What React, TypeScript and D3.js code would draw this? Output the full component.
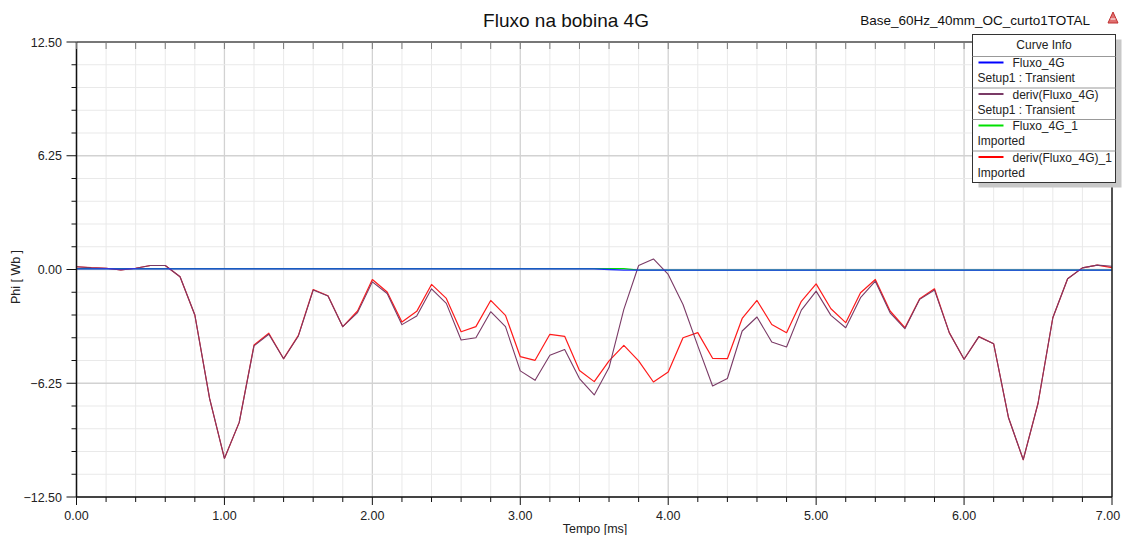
import React from "react";
import * as d3 from "d3";

const times: number[] = [
  0.0, 0.1, 0.2, 0.3, 0.4, 0.5, 0.6, 0.7, 0.8, 0.9,
  1.0, 1.1, 1.2, 1.3, 1.4, 1.5, 1.6, 1.7, 1.8, 1.9,
  2.0, 2.1, 2.2, 2.3, 2.4, 2.5, 2.6, 2.7, 2.8, 2.9,
  3.0, 3.1, 3.2, 3.3, 3.4, 3.5, 3.6, 3.7, 3.8, 3.9,
  4.0, 4.1, 4.2, 4.3, 4.4, 4.5, 4.6, 4.7, 4.8, 4.9,
  5.0, 5.1, 5.2, 5.3, 5.4, 5.5, 5.6, 5.7, 5.8, 5.9,
  6.0, 6.1, 6.2, 6.3, 6.4, 6.5, 6.6, 6.7, 6.8, 6.9,
  7.0,
];

const derivFluxo4G: number[] = [
  0.15, 0.1, 0.07, -0.02, 0.07, 0.22, 0.22, -0.4, -2.5, -7.1,
  -10.38, -8.4, -4.2, -3.56, -4.9, -3.65, -1.13, -1.46, -3.14, -2.37,
  -0.68, -1.32, -3.03, -2.56, -1.06, -1.86, -3.87, -3.75, -2.32, -3.14,
  -5.57, -6.09, -4.71, -4.4, -5.99, -6.89, -5.39, -2.19, 0.22, 0.58,
  -0.27, -1.92, -4.2, -6.4, -5.99, -3.38, -2.61, -3.98, -4.26, -2.23,
  -1.19, -2.52, -3.2, -1.55, -0.64, -2.38, -3.25, -1.64, -1.13, -3.47,
  -4.93, -3.69, -4.08, -8.13, -10.45, -7.35, -2.65, -0.51, 0.09, 0.24,
  0.18,
];

const derivFluxo4G1: number[] = [
  0.15, 0.1, 0.07, -0.02, 0.07, 0.22, 0.22, -0.4, -2.5, -7.1,
  -10.38, -8.4, -4.15, -3.5, -4.9, -3.62, -1.1, -1.44, -3.14, -2.28,
  -0.55, -1.24, -2.89, -2.3, -0.82, -1.59, -3.42, -3.14, -1.7, -2.52,
  -4.79, -4.99, -3.56, -3.67, -5.55, -6.16, -5.02, -4.17, -5.02, -6.18,
  -5.63, -3.75, -3.47, -4.88, -4.9, -2.69, -1.7, -3.02, -3.47, -1.75,
  -0.79, -2.16, -2.92, -1.28, -0.55, -2.28, -3.2, -1.61, -1.06, -3.47,
  -4.93, -3.69, -4.08, -8.13, -10.45, -7.35, -2.65, -0.51, 0.09, 0.24,
  0.1,
];

const fluxoTimes: number[] = [0.0, 3.5, 3.6, 3.7, 7.0];
const fluxo4G: number[] = [0.03, 0.03, 0.0, -0.03, -0.03];
const fluxo1Times: number[] = [0.0, 3.7, 3.8, 7.0];
const fluxo4G1: number[] = [0.05, 0.05, -0.03, -0.03];

const yMajorTicks: number[] = [12.5, 6.25, 0, -6.25, -12.5];
const xMajorTicks: number[] = [0, 1, 2, 3, 4, 5, 6, 7];

const legendNames: string[] = ["Fluxo_4G", "deriv(Fluxo_4G)", "Fluxo_4G_1", "deriv(Fluxo_4G)_1"];
const legendSubs: string[] = ["Setup1 : Transient", "Setup1 : Transient", "Imported", "Imported"];
const legendColors: string[] = ["#0000ff", "#7a3a66", "#00e000", "#ff0000"];

const W = 1125;
const H = 535;
const L = 76.5;
const R = 1112;
const T = 42;
const B = 497;
const FONT = "'Liberation Sans', Arial, sans-serif";

export default function App() {
  const x = d3.scaleLinear().domain([0, 7]).range([L, R]);
  const y = d3.scaleLinear().domain([-12.5, 12.5]).range([B, T]);

  const xMinor = d3.range(0, 36).map((i) => i * 0.2).filter((v) => v <= 7.0001);
  const yMinor = d3.range(-10, 11).map((i) => i * 1.25);

  const line = d3
    .line<[number, number]>()
    .x((d) => x(d[0]))
    .y((d) => y(d[1]));

  const pts = (ts: number[], vs: number[]) => ts.map((t, i) => [t, vs[i]] as [number, number]);

  const fmt = d3.format(".2f");

  const legX = 972.5;
  const legW = 143;
  const legT = 34.5;
  const headH = 22;
  const rowH = 31.5;

  return (
    <svg width={W} height={H} style={{ position: "absolute", left: 0, top: 0, background: "#fff" }} fontFamily={FONT}>
      <rect x={0} y={0} width={W} height={H} fill="#fff" />
      {/* grid */}
      <g>
        {xMinor.map((v, i) => {
          const major = Math.abs(v - Math.round(v)) < 1e-6;
          return (
            <line key={"gx" + i} x1={x(v)} x2={x(v)} y1={T} y2={B} stroke={major ? "#d2d2d2" : "#e9e9e9"} strokeWidth={major ? 1.3 : 1} />
          );
        })}
        {yMinor.map((v, i) => {
          const major = Math.abs(v / 6.25 - Math.round(v / 6.25)) < 1e-6;
          return (
            <line key={"gy" + i} x1={L} x2={R} y1={y(v)} y2={y(v)} stroke={major ? "#d2d2d2" : "#e9e9e9"} strokeWidth={major ? 1.3 : 1} />
          );
        })}
      </g>
      {/* curves */}
      <g fill="none" strokeLinejoin="round">
        <path d={line(pts(times, derivFluxo4G1)) || ""} stroke="#ff1a1a" strokeWidth={1.2} />
        <path d={line(pts(fluxo1Times, fluxo4G1)) || ""} stroke="#00e000" strokeWidth={1.2} />
        <path d={line(pts(times, derivFluxo4G)) || ""} stroke="#7a3a66" strokeWidth={1.1} />
        <path d={line(pts(fluxoTimes, fluxo4G)) || ""} stroke="#1f2fff" strokeWidth={1.3} />
      </g>
      {/* frame */}
      <line x1={L} x2={R} y1={T} y2={T} stroke="#555" strokeWidth={1.5} />
      <line x1={R} x2={R} y1={T} y2={B} stroke="#222" strokeWidth={1.5} />
      <line x1={L} x2={L} y1={T} y2={B} stroke="#111" strokeWidth={1.5} />
      <line x1={L} x2={R} y1={B} y2={B} stroke="#111" strokeWidth={1.5} />
      {/* x ticks */}
      {xMinor.map((v, i) => {
        const major = Math.abs(v - Math.round(v)) < 1e-6;
        return (
          <g key={"xt" + i}>
            <line x1={x(v)} x2={x(v)} y1={B} y2={B + (major ? 8 : 5)} stroke="#111" strokeWidth={1} />
            <line x1={x(v)} x2={x(v)} y1={T} y2={T + 7} stroke="#777" strokeWidth={1} />
          </g>
        );
      })}
      {xMajorTicks.map((v) => (
        <text key={"xl" + v} x={v === 7 ? x(v) - 4 : x(v)} y={B + 23} textAnchor="middle" fontSize={12.5} fill="#222">
          {fmt(v)}
        </text>
      ))}
      {/* y ticks */}
      {yMinor.map((v, i) => {
        const major = Math.abs(v / 6.25 - Math.round(v / 6.25)) < 1e-6;
        return <line key={"yt" + i} x1={major ? L - 10 : L - 5} x2={L} y1={y(v)} y2={y(v)} stroke="#111" strokeWidth={1} />;
      })}
      {yMajorTicks.map((v) => (
        <text key={"yl" + v} x={62} y={y(v) + 4.5} textAnchor="end" fontSize={12.5} fill="#222">
          {fmt(v)}
        </text>
      ))}
      {/* axis titles */}
      <text x={595} y={533} textAnchor="middle" fontSize={12.5} fill="#222">
        Tempo [ms]
      </text>
      <text transform={`translate(20,${277}) rotate(-90)`} textAnchor="middle" fontSize={12.5} fill="#222">
        Phi  [ Wb ]
      </text>
      {/* title */}
      <text x={566} y={27} textAnchor="middle" fontSize={19} fill="#111">
        Fluxo na bobina 4G
      </text>
      <text x={1090} y={25} textAnchor="end" fontSize={13.5} fill="#111">
        Base_60Hz_40mm_OC_curto1TOTAL
      </text>
      {/* logo */}
      <g transform="translate(1113,18)">
        <path d="M0,-6 L5,5 L-5,5 Z" fill="#e07070" stroke="#c03030" strokeWidth={1} />
        <path d="M-2.5,1 L2.5,1" stroke="#fff" strokeWidth={1} />
      </g>
      {/* legend */}
      <g>
        <rect x={legX + 6} y={legT + 5} width={legW} height={headH + rowH * 4} fill="#c8c8c8" />
        <rect x={legX} y={legT} width={legW} height={headH + rowH * 4} fill="#fff" stroke="#333" strokeWidth={1} />
        <text x={legX + legW / 2} y={legT + 14} textAnchor="middle" fontSize={12} fill="#222">
          Curve Info
        </text>
        {legendNames.map((n, i) => {
          const top = legT + headH + i * rowH;
          return (
            <g key={"lg" + i}>
              <line x1={legX} x2={legX + legW} y1={top} y2={top} stroke="#999" strokeWidth={1} />
              <line x1={legX + 6} x2={legX + 31} y1={top + 6} y2={top + 6} stroke={legendColors[i]} strokeWidth={2} />
              <text x={legX + 40} y={top + 10.5} fontSize={12} fill="#222">
                {n}
              </text>
              <text x={legX + 5} y={top + 25.5} fontSize={12} fill="#222">
                {legendSubs[i]}
              </text>
            </g>
          );
        })}
      </g>
    </svg>
  );
}
